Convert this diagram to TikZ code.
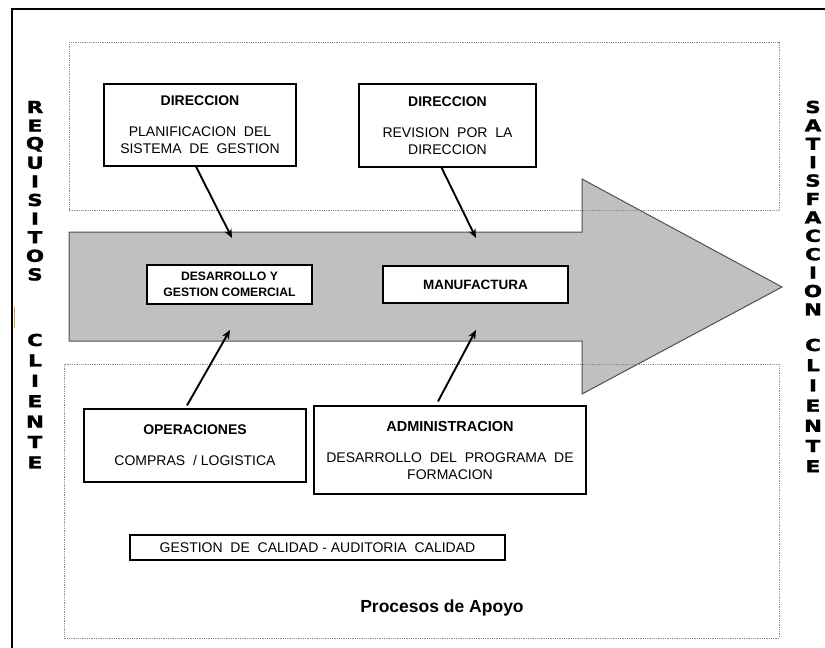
\documentclass[tikz,border=0pt]{standalone}
\usepackage{graphicx}
\usepackage{fontspec}
\setmainfont{Liberation Sans}
\newfontfamily\heavyfont[FakeBold=1.5]{DejaVu Sans}
\usetikzlibrary{arrows.meta}

\definecolor{flowgray}{HTML}{C0C0C0}
\definecolor{flowedge}{HTML}{505050}
\definecolor{zoneedge}{HTML}{8C8C8C}

\tikzset{
  pbox/.style={draw=black, line width=1.1pt, fill=white, align=center,
    inner sep=0pt, font=\fontsize{14}{17}\selectfont},
  zone/.style={draw=zoneedge, densely dotted, line width=0.8pt},
  link/.style={draw=black, line width=1.9pt,
    -{Stealth[length=9pt,width=7.5pt]}},
  vletter/.style={font=\heavyfont\bfseries\fontsize{16.5}{16.5}\selectfont,
    inner sep=0pt, anchor=center},
}

\newcommand{\ttl}[1]{\textbf{#1}}
\newcommand{\wideletter}[1]{\scalebox{1.3}[1]{#1}}

\begin{document}
\begin{tikzpicture}[x=1pt,y=-1pt]
\useasboundingbox (0,0) rectangle (825,648);

% outer frame (top and left edges)
\draw[line width=2pt] (12,648) -- (12,9) -- (826,9);
\draw[draw={rgb,255:red,217;green,160;blue,80}, line width=1.2pt] (14.5,307) -- (14.5,328);

% main process arrow
\draw[fill=flowgray, draw=flowedge, line width=1pt, line join=miter]
  (69,232) -- (582,232) -- (582,179) -- (782,287) -- (582,394)
  -- (582,341) -- (69,341) -- cycle;

% dotted zones
\draw[zone] (69,42) rectangle (779,210);
\draw[zone] (64,364) rectangle (779,638);

% vertical side captions
\foreach \ch [count=\i from 0] in {R,E,Q,U,I,S,I,T,O,S}
  \node[vletter] (rq\i) at (35,107+18.6*\i) {\wideletter{\ch}};
\foreach \ch [count=\i from 0] in {C,L,I,E,N,T,E}
  \node[vletter] (rc\i) at (35,340+20.4*\i) {\wideletter{\ch}};
\foreach \ch [count=\i from 0] in {S,A,T,I,S,F,A,C,C,I,O,N}
  \node[vletter] (sq\i) at (813,107+18.4*\i) {\wideletter{\ch}};
\foreach \ch [count=\i from 0] in {C,L,I,E,N,T,E}
  \node[vletter] (sc\i) at (813,345+20.2*\i) {\wideletter{\ch}};

% process boxes
\node[pbox, minimum width=192, minimum height=82] (dir1) at (200,125)
  {\ttl{DIRECCION}\\[14pt]PLANIFICACION\ \ DEL\\SISTEMA\ \ DE\ \ GESTION};
\node[pbox, minimum width=177, minimum height=83] (dir2) at (447.5,125.5)
  {\ttl{DIRECCION}\\[14pt]REVISION\ \ POR\ \ LA\\DIRECCION};
\node[pbox, minimum width=165, minimum height=39,
      font=\bfseries\fontsize{12.2}{15.5}\selectfont] (desa) at (229.5,284.5)
  {DESARROLLO Y\\GESTION COMERCIAL};
\node[pbox, minimum width=185, minimum height=37,
      font=\bfseries\fontsize{13.5}{15.5}\selectfont] (manu) at (475.5,284.5)
  {MANUFACTURA};
\node[pbox, minimum width=222, minimum height=73] (oper) at (195,445.5)
  {\ttl{OPERACIONES}\\[14pt]COMPRAS\ \ / LOGISTICA};
\node[pbox, minimum width=272, minimum height=88] (admi) at (450,450)
  {{\fontsize{14.5}{17}\selectfont\ttl{ADMINISTRACION}}\\[14pt]DESARROLLO\ \ DEL\ \ PROGRAMA\ \ DE\\FORMACION};
\node[pbox, minimum width=375, minimum height=25,
      font=\fontsize{14}{16}\selectfont] (cali) at (317.5,547.5)
  {GESTION\ \ DE\ \ CALIDAD - AUDITORIA\ \ CALIDAD};
\node[font=\bfseries\fontsize{17.5}{19}\selectfont, inner sep=0pt] (apoyo) at (442,608)
  {Procesos de Apoyo};

% connector targets on the arrow
\coordinate (t1) at (232,238);
\coordinate (t2) at (476,238);
\coordinate (b1) at (230,330);
\coordinate (b2) at (476,330);

% connectors
\draw[link] ([xshift=-4pt]dir1.south) -- (t1);
\draw[link] ([xshift=-6pt]dir2.south) -- (t2);
\draw[link] ([xshift=-8pt,yshift=3pt]oper.north) -- (b1);
\draw[link] ([xshift=-12pt,yshift=4pt]admi.north) -- (b2);
\end{tikzpicture}
\end{document}
